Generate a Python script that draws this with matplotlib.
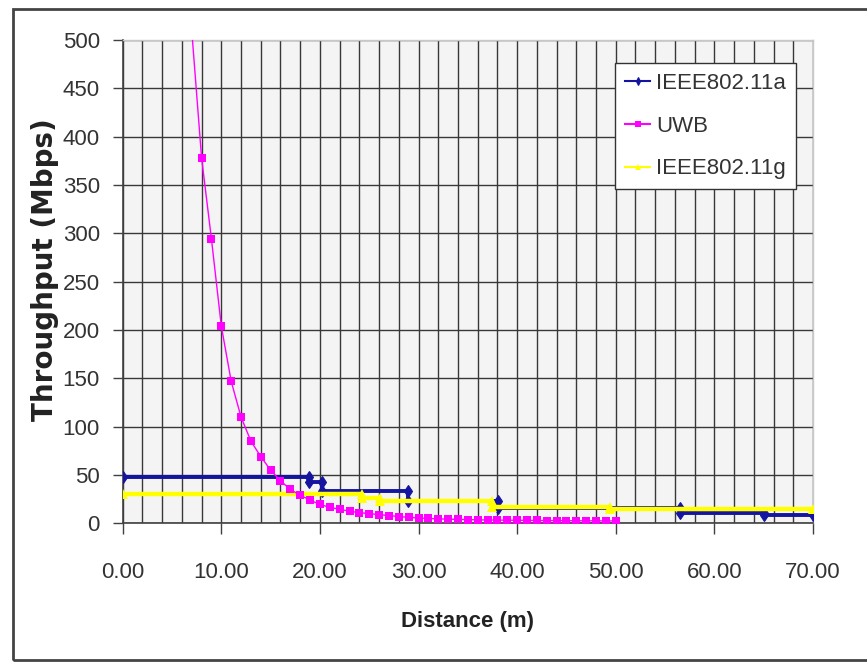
import matplotlib
matplotlib.use("Agg")
import matplotlib.pyplot as plt
from matplotlib.ticker import MultipleLocator, FormatStrFormatter
from matplotlib.patches import Rectangle

# ---------------- data ----------------
series_names = ["IEEE802.11a", "UWB", "IEEE802.11g"]

a_dist = [0, 18.9, 18.9, 20.2, 20.2, 28.9, 28.9, 38.1, 38.1, 56.5, 56.5, 65.0, 65.0, 70.0]
a_thr  = [48, 48, 43, 43, 33, 33, 23, 23, 16, 16, 10.3, 10.3, 8.6, 8.6]

uwb_dist = list(range(7, 51))
uwb_thr = [510, 378, 294, 204, 147, 110, 85, 69, 55, 44,
           35, 29, 24, 19.5, 16.5, 14.5, 12.5, 11, 10, 9,
           8, 7, 6.2, 5.5, 5, 4.6, 4.3, 4, 3.8, 3.6,
           3.4, 3.3, 3.2, 3.1, 3.0, 2.9, 2.8, 2.8, 2.7, 2.6,
           2.6, 2.5, 2.5, 2.4]

g_dist = [0, 24.3, 24.3, 26.1, 26.1, 37.4, 37.4, 49.4, 49.4, 70.0]
g_thr  = [30, 30, 26, 26, 23.5, 23.5, 17, 17, 14.5, 14.5]

x_label = "Distance (m)"
y_label = "Throughput (Mbps)"

tick_family = ["Liberation Sans", "DejaVu Sans"]

W, H = 867, 662
fig = plt.figure(figsize=(W / 100, H / 100), dpi=100)
fig.patch.set_facecolor("white")

# outer chart frame
fig.patches.append(Rectangle((13 / W, 2 / H), 1.0, (H - 11) / H,
                             transform=fig.transFigure, fill=False,
                             edgecolor="#444444", linewidth=2.0, zorder=0))

ax = fig.add_axes([122.7 / W, 1 - 523.3 / H, (813 - 122.7) / W, (523.3 - 40) / H])
ax.set_facecolor("#f4f4f4")

ax.set_xlim(0, 70)
ax.set_ylim(0, 500)

# grid
ax.xaxis.set_major_locator(MultipleLocator(10))
ax.xaxis.set_minor_locator(MultipleLocator(2))
ax.yaxis.set_major_locator(MultipleLocator(50))
ax.grid(which="both", axis="x", color="#383838", linewidth=1.0)
ax.grid(which="major", axis="y", color="#383838", linewidth=1.0)
ax.set_axisbelow(True)

for s in ["top", "right"]:
    ax.spines[s].set_color("#c8c8c8")
    ax.spines[s].set_linewidth(1.0)
for s in ["left", "bottom"]:
    ax.spines[s].set_color("#404040")
    ax.spines[s].set_linewidth(1.2)

ax.xaxis.set_major_formatter(FormatStrFormatter("%.2f"))
ax.tick_params(axis="x", which="major", direction="out", length=8, width=1,
               color="#404040", pad=20, labelsize=16, labelcolor="#333333")
ax.tick_params(axis="x", which="minor", length=0)
ax.tick_params(axis="y", which="major", direction="out", length=7.5, width=1,
               color="#404040", pad=9, labelsize=16, labelcolor="#333333")
for lab in ax.get_xticklabels() + ax.get_yticklabels():
    lab.set_family(tick_family)

# series
ax.plot(a_dist, a_thr, color="#1414a0", linewidth=2.8, marker="d",
        markersize=6, markeredgewidth=0.8, label=series_names[0], zorder=3,
        clip_on=True)
ax.plot(uwb_dist, uwb_thr, color="#ff00ff", linewidth=1.0, marker="s",
        markersize=5.5, markeredgewidth=0, label=series_names[1], zorder=4,
        clip_on=True)
ax.plot(g_dist, g_thr, color="#ffff00", linewidth=3.2, marker="^",
        markersize=7, markeredgewidth=0, label=series_names[2], zorder=3.5,
        clip_on=True)

ax.set_xlabel(x_label, fontsize=16, fontweight="bold", family=tick_family,
              color="#222222")
ax.xaxis.set_label_coords(0.5, -0.1815)
ax.set_ylabel(y_label, fontsize=20, fontweight="bold", family=["DejaVu Sans"],
              color="#222222", va="center")
ax.yaxis.set_label_coords(-0.1126, 0.524)

leg = ax.legend(loc="upper left", bbox_to_anchor=(0.713, 0.952),
                frameon=True, fancybox=False, borderpad=0.45,
                handlelength=1.15, handletextpad=0.25, labelspacing=0.97,
                prop={"family": tick_family, "size": 16}, borderaxespad=0)
leg.get_frame().set_edgecolor("#333333")
leg.get_frame().set_linewidth(1.0)
leg.get_frame().set_facecolor("white")
leg.get_frame().set_alpha(1.0)
for h in leg.legend_handles:
    h.set_linewidth(1.5)
    h.set_markersize(4)
for t in leg.get_texts():
    t.set_color("#333333")

fig.savefig("out.png", dpi=100)
